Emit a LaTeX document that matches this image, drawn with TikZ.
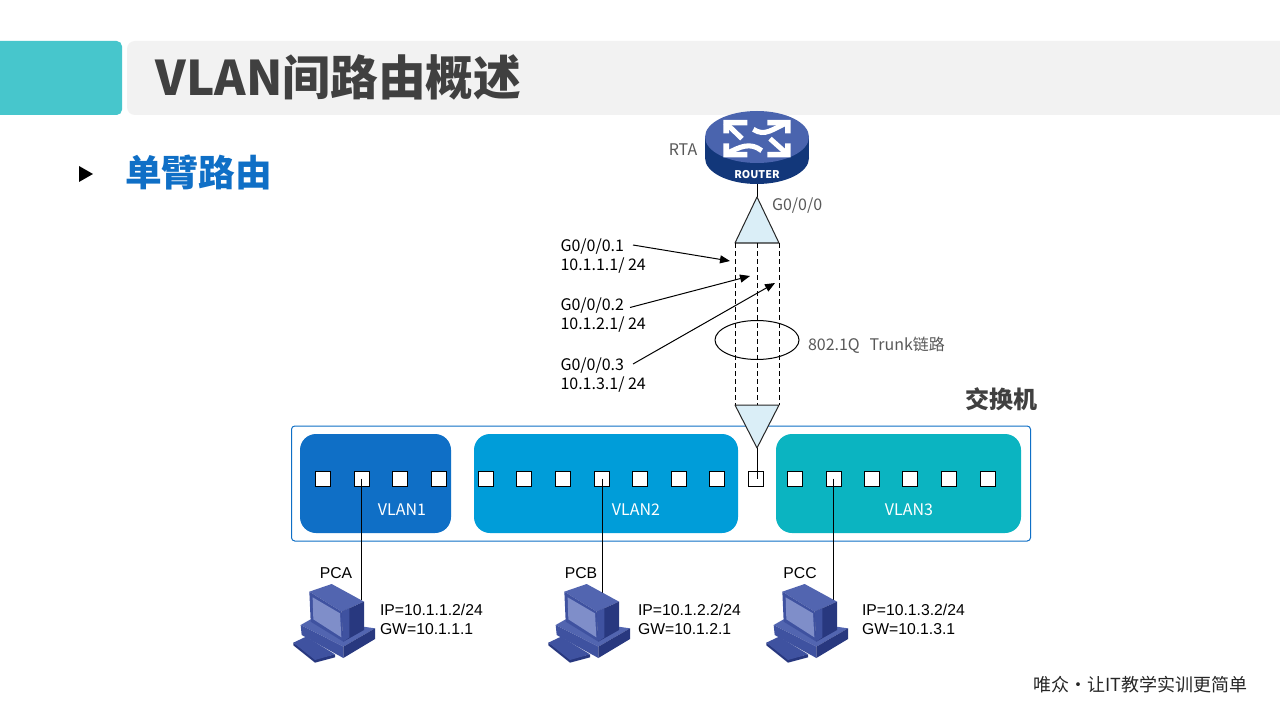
\documentclass[tikz,border=0pt]{standalone}
\usepackage{fontspec}
\setmainfont{Noto Sans CJK SC}
\newfontfamily\arialfont{Liberation Sans}
\usetikzlibrary{arrows.meta,shapes.geometric}
\definecolor{tealhead}{HTML}{47C6CC}
\definecolor{grayhead}{HTML}{F2F2F2}
\definecolor{titlegray}{HTML}{404040}
\definecolor{labelgray}{HTML}{595959}
\definecolor{blueone}{HTML}{0F6FC6}
\definecolor{bluetwo}{HTML}{009DD9}
\definecolor{tealthree}{HTML}{0BB4C1}
\definecolor{trifill}{HTML}{DAEEF7}
\definecolor{rtop}{HTML}{4A64AE}
\definecolor{rside}{HTML}{12377A}
\definecolor{pclight}{HTML}{5265B0}
\definecolor{pcmid}{HTML}{3F52A0}
\definecolor{pcdark}{HTML}{28387F}
\definecolor{pcscreen}{HTML}{7F8EC9}
\tikzset{
  txt/.style={inner sep=0pt,outer sep=0pt,anchor=west,align=left,font=\fontsize{12}{14}\selectfont},
  graytxt/.style={txt,text=labelgray},
  pctxt/.style={inner sep=0pt,outer sep=0pt,anchor=west,align=left,font=\arialfont\fontsize{11.8}{14.2}\selectfont},
  port/.style={draw=black,fill=white,line width=0.75pt,minimum size=11.25pt,inner sep=0pt,outer sep=0pt},
  vlanbox/.style={rounded corners=12pt},
  vlantxt/.style={inner sep=0pt,text=white,font=\fontsize{12}{14}\selectfont},
  thin line/.style={draw=black,line width=0.75pt},
  ptr/.style={draw=black,line width=0.75pt,-{Triangle[length=7.5pt,width=6pt]}},
  trunk/.style={draw=black,line width=0.75pt,dash pattern=on 3.4pt off 2.6pt},
  tri/.style={fill=trifill,draw=black!85,line width=0.75pt,line join=round},
  rarrow/.style={draw=white,line width=3.8pt},
}
\newcommand{\pcicon}[1]{%
\begin{scope}[shift={(#1,560)},x=0.25pt,y=-0.25pt]
  % keyboard
  \fill[pcdark] (40,248) -- (108,296) -- (165,283) -- (165,292) -- (105,308) -- (40,256) -- cycle;
  \fill[pcmid] (40,248) -- (78,230) -- (165,283) -- (105,300) -- cycle;
  % base
  \fill[pclight] (62,195) -- (92,178) -- (190,240) -- (250,200) -- (285,205) -- (190,260) -- cycle;
  \fill[pcmid] (62,195) -- (190,260) -- (190,294) -- (65,225) -- cycle;
  \fill[pcdark] (190,260) -- (285,205) -- (285,237) -- (190,294) -- cycle;
  % monitor
  \fill[pclight] (88,95) -- (155,72) -- (252,125) -- (185,155) -- cycle;
  \fill[pcmid] (88,95) -- (185,155) -- (190,245) -- (92,185) -- cycle;
  \fill[pcscreen] (98,112) -- (180,160) -- (184,232) -- (100,178) -- cycle;
  \fill[pcdark] (185,155) -- (252,125) -- (252,210) -- (190,245) -- cycle;
  \fill[pcmid] (185,155) -- (208,145) -- (208,232) -- (190,245) -- cycle;
\end{scope}}
\begin{document}
\begin{tikzpicture}[x=0.75pt,y=-0.75pt]
\useasboundingbox (0,0) rectangle (1280,720);
\fill[white] (0,0) rectangle (1280,720);
% header
\fill[tealhead] (0,41) {[rounded corners=4pt] -- (122,41) -- (122,115)} -- (0,115) -- cycle;
\fill[grayhead] (1280,41) {[rounded corners=6pt] -- (127,41) -- (127,115)} -- (1280,115) -- cycle;
\node[inner sep=0pt,anchor=west,text=titlegray,font=\fontsize{35.8}{40}\selectfont\bfseries] (title) at (155.5,77) {VLAN间路由概述};
% bullet
\fill[black] (79,166) -- (93,174) -- (79,182) -- cycle;
\node[inner sep=0pt,anchor=west,text=blueone,font=\fontsize{27.5}{32}\selectfont\bfseries] (sub) at (125,173) {单臂路由};

% switch frame
\draw[blueone,line width=0.75pt,rounded corners=2.5pt] (291.5,426) rectangle (1030.5,541);
\fill[blueone,vlanbox] (300,434) rectangle (451,533);
\fill[bluetwo,vlanbox] (474,434) rectangle (738,533);
\fill[tealthree,vlanbox] (776,434) rectangle (1021,533);
\node[vlantxt] (v1) at (402,510) {VLAN1};
\node[vlantxt] (v2) at (636,510) {VLAN2};
\node[vlantxt] (v3) at (909,510) {VLAN3};
\node[inner sep=0pt,text=titlegray,font=\fontsize{18}{22}\selectfont\bfseries] (sw) at (1001,399) {交换机};

% ports
\foreach \n/\x in {a1/323,a2/361.5,a3/400,a4/439,b1/486,b2/524,b3/563,b4/602,b5/640,b6/679,b7/717,c1/795,c2/833.5,c3/872,c4/910,c5/949,c6/988}
  \node[port] (\n) at (\x,478.5) {};
\node[port] (trunkport) at (756,478.5) {};

% router
\coordinate (rtrbottom) at (757,184);
\fill[rside] (757,158) ellipse[x radius=52,y radius=26];
\fill[rside] (705,137) rectangle (809,158);
\fill[rtop] (757,137) ellipse[x radius=52,y radius=26];
\begin{scope}[shift={(660,100)},x=0.25pt,y=-0.25pt]
  \draw[rarrow] (196,68) -- (246,116);
  \fill[white] (190,60) -- (262,60) -- (262,76) -- (207,76) -- (207,100) -- (190,100) -- cycle;
  \draw[rarrow] (280,88) .. controls (315,112) and (340,85) .. (382,68);
  \fill[white] (392,60) -- (322,60) -- (322,76) -- (375,76) -- (375,100) -- (392,100) -- cycle;
  \draw[rarrow] (198,162) .. controls (240,140) and (270,125) .. (305,152);
  \fill[white] (190,172) -- (262,172) -- (262,156) -- (207,156) -- (207,130) -- (190,130) -- cycle;
  \draw[rarrow] (385,165) -- (330,116);
  \fill[white] (392,172) -- (322,172) -- (322,156) -- (375,156) -- (375,130) -- (392,130) -- cycle;
\end{scope}
\node[inner sep=0pt,text=white,font=\fontsize{8}{9}\selectfont\bfseries] (rtrtxt) at (757,175) {ROUTER};
\node[graytxt,anchor=center] (rta) at (683,150) {RTA};
\node[graytxt] (g000) at (772,206) {G0/0/0};

% trunk
\coordinate (tTopApex) at (757,197);
\coordinate (tTopL) at (735,243);
\coordinate (tTopM) at (757.5,243);
\coordinate (tTopR) at (779,243);
\coordinate (tBotL) at (735,405);
\coordinate (tBotM) at (757.5,405);
\coordinate (tBotR) at (779,405);
\coordinate (tBotApex) at (757,448);
\coordinate (portEnd) at (757,479);
\draw[thin line] (rtrbottom) -- (tTopApex);
\draw[tri] (tTopApex) -- (tTopR) -- (tTopL) -- cycle;
\draw[trunk] (tTopL) -- (tBotL);
\draw[trunk] (tTopM) -- (tBotM);
\draw[trunk] (tTopR) -- (tBotR);
\draw[tri] (tBotL) -- (tBotR) -- (tBotApex) -- cycle;
\draw[thin line] (tBotApex) -- (portEnd);
\node[draw=black,line width=0.75pt,ellipse,minimum width=63pt,minimum height=29.25pt,inner sep=0pt] (ring) at (757,340) {};
\node[graytxt] (trunklabel) at (808,345) {802.1Q\ \ \,Trunk链路};

% subinterfaces
\node[txt] (s1) at (560.5,256) {G0/0/0.1\\10.1.1.1/ 24};
\node[txt] (s2) at (560.5,315) {G0/0/0.2\\10.1.2.1/ 24};
\node[txt] (s3) at (560.5,375) {G0/0/0.3\\10.1.3.1/ 24};
\coordinate (s1a) at (633,245); \coordinate (s1b) at (730,261);
\coordinate (s2a) at (630,307.5); \coordinate (s2b) at (750,276);
\coordinate (s3a) at (633,364); \coordinate (s3b) at (775,283);
\draw[ptr] (s1a) -- (s1b);
\draw[ptr] (s2a) -- (s2b);
\draw[ptr] (s3a) -- (s3b);

% PCs
\coordinate (pcaT) at (361.5,600);
\coordinate (pcbT) at (602,600);
\coordinate (pccT) at (833.5,600);
\draw[thin line] (a2.center) -- (pcaT);
\draw[thin line] (b4.center) -- (pcbT);
\draw[thin line] (c2.center) -- (pccT);
\pcicon{280}
\pcicon{535}
\pcicon{753}
\node[pctxt,anchor=center] (pca) at (336,573) {PCA};
\node[pctxt,anchor=center] (pcb) at (581,573) {PCB};
\node[pctxt,anchor=center] (pcc) at (800,573) {PCC};
\node[pctxt] (ipa) at (380,619) {IP=10.1.1.2/24\\GW=10.1.1.1};
\node[pctxt] (ipb) at (638,619) {IP=10.1.2.2/24\\GW=10.1.2.1};
\node[pctxt] (ipc) at (862,619) {IP=10.1.3.2/24\\GW=10.1.3.1};

% footer
\node[inner sep=0pt,anchor=east,text=black!85,font=\fontsize{13.5}{15}\selectfont] (foot) at (1248,685) {唯众•让IT教学实训更简单};
\end{tikzpicture}
\end{document}
